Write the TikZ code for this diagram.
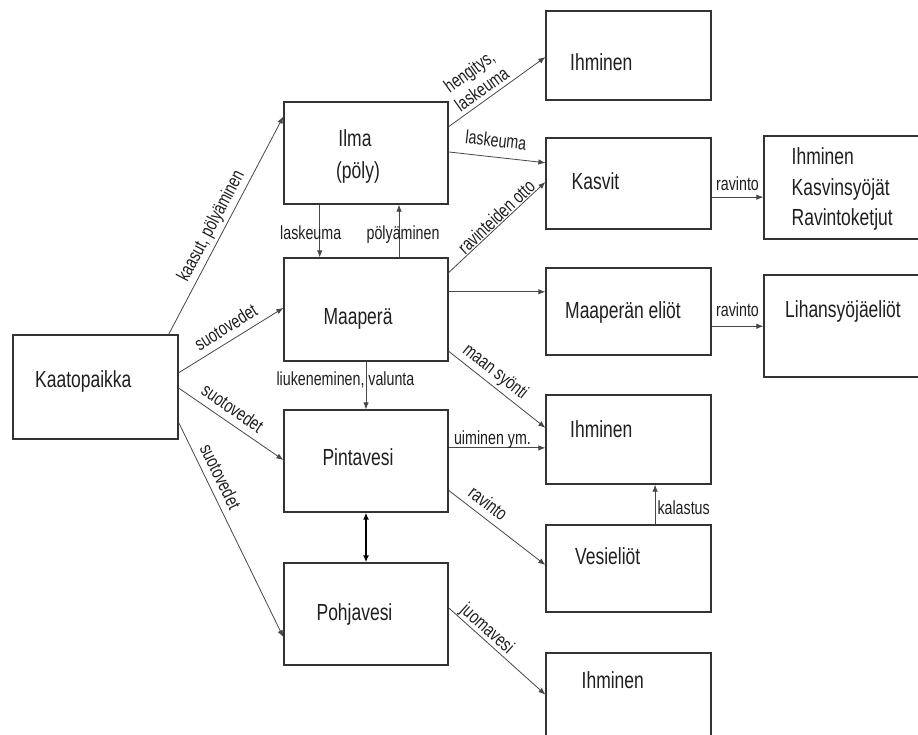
\documentclass[tikz,border=0pt]{standalone}
\usepackage{fontspec}
\setmainfont{Liberation Sans}[FakeStretch=0.75]
\usetikzlibrary{arrows.meta,calc}
\begin{document}
\begin{tikzpicture}[x=1pt,y=-1pt,
  box/.style={draw=black!80, line width=1.3pt, inner sep=0pt},
  bt/.style={font=\fontsize{23.3}{28}\selectfont, text=black!88, inner sep=0pt, text height=16.7pt, text depth=0pt},
  lab/.style={font=\fontsize{19}{22}\selectfont, text=black!88, inner sep=3pt, text height=13.6pt, text depth=4pt},
  arr/.style={draw=black!72, line width=0.8pt, -{Latex[length=7pt,width=5.5pt]}},
  darr/.style={draw=black, line width=1.5pt, {Latex[length=7pt,width=6pt]}-{Latex[length=7pt,width=6pt]}}]
\useasboundingbox (0,0) rectangle (918,734);
\fill[white] (0,0) rectangle (918,734);
\clip (0,0) rectangle (918,734);

% boxes
\node[box, minimum width=165pt, minimum height=104pt] (kaato) at (95.5,387) {};
\node[box, minimum width=164pt, minimum height=102pt] (ilma) at (366,153) {};
\node[box, minimum width=164pt, minimum height=103pt] (maap) at (366,309.5) {};
\node[box, minimum width=164pt, minimum height=102pt] (pinta) at (366,461) {};
\node[box, minimum width=164pt, minimum height=102pt] (pohja) at (366,614) {};
\node[box, minimum width=165pt, minimum height=89pt] (ihm1) at (628.5,55.5) {};
\node[box, minimum width=165pt, minimum height=91pt] (kasvit) at (628.5,183.5) {};
\node[box, minimum width=165pt, minimum height=87pt] (mel) at (628.5,311.5) {};
\node[box, minimum width=165pt, minimum height=89pt] (ihm2) at (628.5,439.5) {};
\node[box, minimum width=165pt, minimum height=87pt] (vesi) at (628.5,568.5) {};
\node[box, minimum width=165pt, minimum height=107pt] (ihm3) at (628.5,706.5) {};
\node[box, minimum width=166pt, minimum height=103pt] (ravk) at (847,187.5) {};
\node[box, minimum width=166pt, minimum height=102pt] (liha) at (847,326) {};

% box texts
\node[bt, anchor=west] (kaato-t) at (35,379) {Kaatopaikka};
\node[bt] (ilma-t1) at (355,138) {Ilma};
\node[bt] (ilma-t2) at (358,170.5) {(pöly)};
\node[bt] (maap-t) at (358,316.5) {Maaperä};
\node[bt] (pinta-t) at (358,457.5) {Pintavesi};
\node[bt] (pohja-t) at (354.5,612.5) {Pohjavesi};
\node[bt, anchor=west] (ihm1-t) at (570,62) {Ihminen};
\node[bt, anchor=west] (kasvit-t) at (571.5,181.5) {Kasvit};
\node[bt, anchor=west] (mel-t) at (565,310.5) {Maaperän eliöt};
\node[bt, anchor=west] (ihm2-t) at (570,429) {Ihminen};
\node[bt, anchor=west] (vesi-t) at (575,556) {Vesieliöt};
\node[bt, anchor=west] (ihm3-t) at (581.5,680) {Ihminen};
\node[bt, anchor=west] (ravk-t1) at (791.5,156) {Ihminen};
\node[bt, anchor=west] (ravk-t2) at (791.5,187) {Kasvinsyöjät};
\node[bt, anchor=west] (ravk-t3) at (791.5,217.5) {Ravintoketjut};
\node[bt, anchor=west] (liha-t) at (785,309) {Lihansyöjäeliöt};

% connectors from Kaatopaikka
\draw[arr] ($(kaato.north west)!0.94!(kaato.north east)$) -- ($(ilma.north west)!0.147!(ilma.south west)$)
  node[lab, pos=0.47, above, sloped] (l-kaasut) {kaasut, pölyäminen};
\draw[arr] ($(kaato.north east)!0.365!(kaato.south east)$) -- ($(maap.north west)!0.485!(maap.south west)$)
  node[lab, pos=0.52, above, sloped] (l-suot1) {suotovedet};
\draw[arr] ($(kaato.north east)!0.51!(kaato.south east)$) -- ($(pinta.north west)!0.49!(pinta.south west)$)
  node[lab, pos=0.44, above, sloped] (l-suot2) {suotovedet};
\draw[arr] ($(kaato.north east)!0.837!(kaato.south east)$) -- ($(pohja.north west)!0.725!(pohja.south west)$)
  node[lab, pos=0.28, above, sloped] (l-suot3) {suotovedet};

% Ilma <-> Maapera
\coordinate (c-lask) at ($(ilma.south west)!0.22!(ilma.south east)$);
\draw[arr] (c-lask) -- (c-lask |- maap.north)
  node[lab, pos=0.667, anchor=base, xshift=-9pt] (l-lask) {laskeuma};
\coordinate (c-poly) at ($(maap.north west)!0.70!(maap.north east)$);
\draw[arr] (c-poly) -- (c-poly |- ilma.south)
  node[lab, pos=0.333, anchor=base, xshift=4pt] (l-poly) {pölyäminen};

% from Ilma
\draw[arr] ($(ilma.north east)!0.245!(ilma.south east)$) -- ($(ihm1.north west)!0.517!(ihm1.south west)$)
  node[font=\fontsize{19}{21.5}\selectfont, text=black!88, inner sep=2pt, align=center, pos=0.41, above=2pt, sloped] (l-heng) {hengitys,\\laskeuma};
\draw[arr] ($(ilma.north east)!0.49!(ilma.south east)$) -- ($(kasvit.north west)!0.275!(kasvit.south west)$)
  node[lab, pos=0.47, above=3pt, sloped] (l-lask2) {laskeuma};

% from Maapera
\draw[arr] ($(maap.north east)!0.146!(maap.south east)$) -- ($(kasvit.north west)!0.484!(kasvit.south west)$)
  node[lab, pos=0.55, above=-6pt, sloped] (l-ravo) {ravinteiden otto};
\coordinate (c-mel) at ($(maap.north east)!0.33!(maap.south east)$);
\draw[arr] (c-mel) -- (c-mel -| mel.west);
\draw[arr] ($(maap.north east)!0.90!(maap.south east)$) -- ($(ihm2.north west)!0.37!(ihm2.south west)$)
  node[lab, pos=0.40, above, sloped] (l-maan) {maan syönti};
\draw[arr] (maap.south) -- (pinta.north)
  node[lab, pos=0.49, anchor=base, xshift=-20.5pt] (l-liuk) {liukeneminen, valunta};

% from Pintavesi
\coordinate (c-uim) at ($(pinta.north east)!0.373!(pinta.south east)$);
\draw[arr] (c-uim) -- (c-uim -| ihm2.west)
  node[lab, pos=0, anchor=base west, inner sep=0pt, xshift=5pt, yshift=3pt] (l-uim) {uiminen ym.};
\draw[arr] ($(pinta.north east)!0.784!(pinta.south east)$) -- ($(vesi.north west)!0.46!(vesi.south west)$)
  node[lab, pos=0.32, above, sloped] (l-rav3) {ravinto};
\draw[darr] (pinta.south) -- (pohja.north);

% from Pohjavesi
\draw[arr] ($(pohja.north east)!0.44!(pohja.south east)$) -- ($(ihm3.north west)!0.39!(ihm3.south west)$)
  node[lab, pos=0.33, above=-3pt, sloped] (l-juo) {juomavesi};

% kalastus
\coordinate (c-kal) at ($(vesi.north west)!0.66!(vesi.north east)$);
\draw[arr] (c-kal) -- (c-kal |- ihm2.south)
  node[lab, pos=0.36, anchor=west, inner sep=2pt] (l-kal) {kalastus};

% ravinto right
\coordinate (c-r1) at ($(kasvit.north east)!0.648!(kasvit.south east)$);
\draw[arr] (c-r1) -- (c-r1 -| ravk.west)
  node[lab, midway, anchor=base, yshift=7pt] (l-rav1) {ravinto};
\coordinate (c-r2) at ($(mel.north east)!0.667!(mel.south east)$);
\draw[arr] (c-r2) -- (c-r2 -| liha.west)
  node[lab, midway, anchor=base, yshift=9.5pt] (l-rav2) {ravinto};
\end{tikzpicture}
\end{document}
